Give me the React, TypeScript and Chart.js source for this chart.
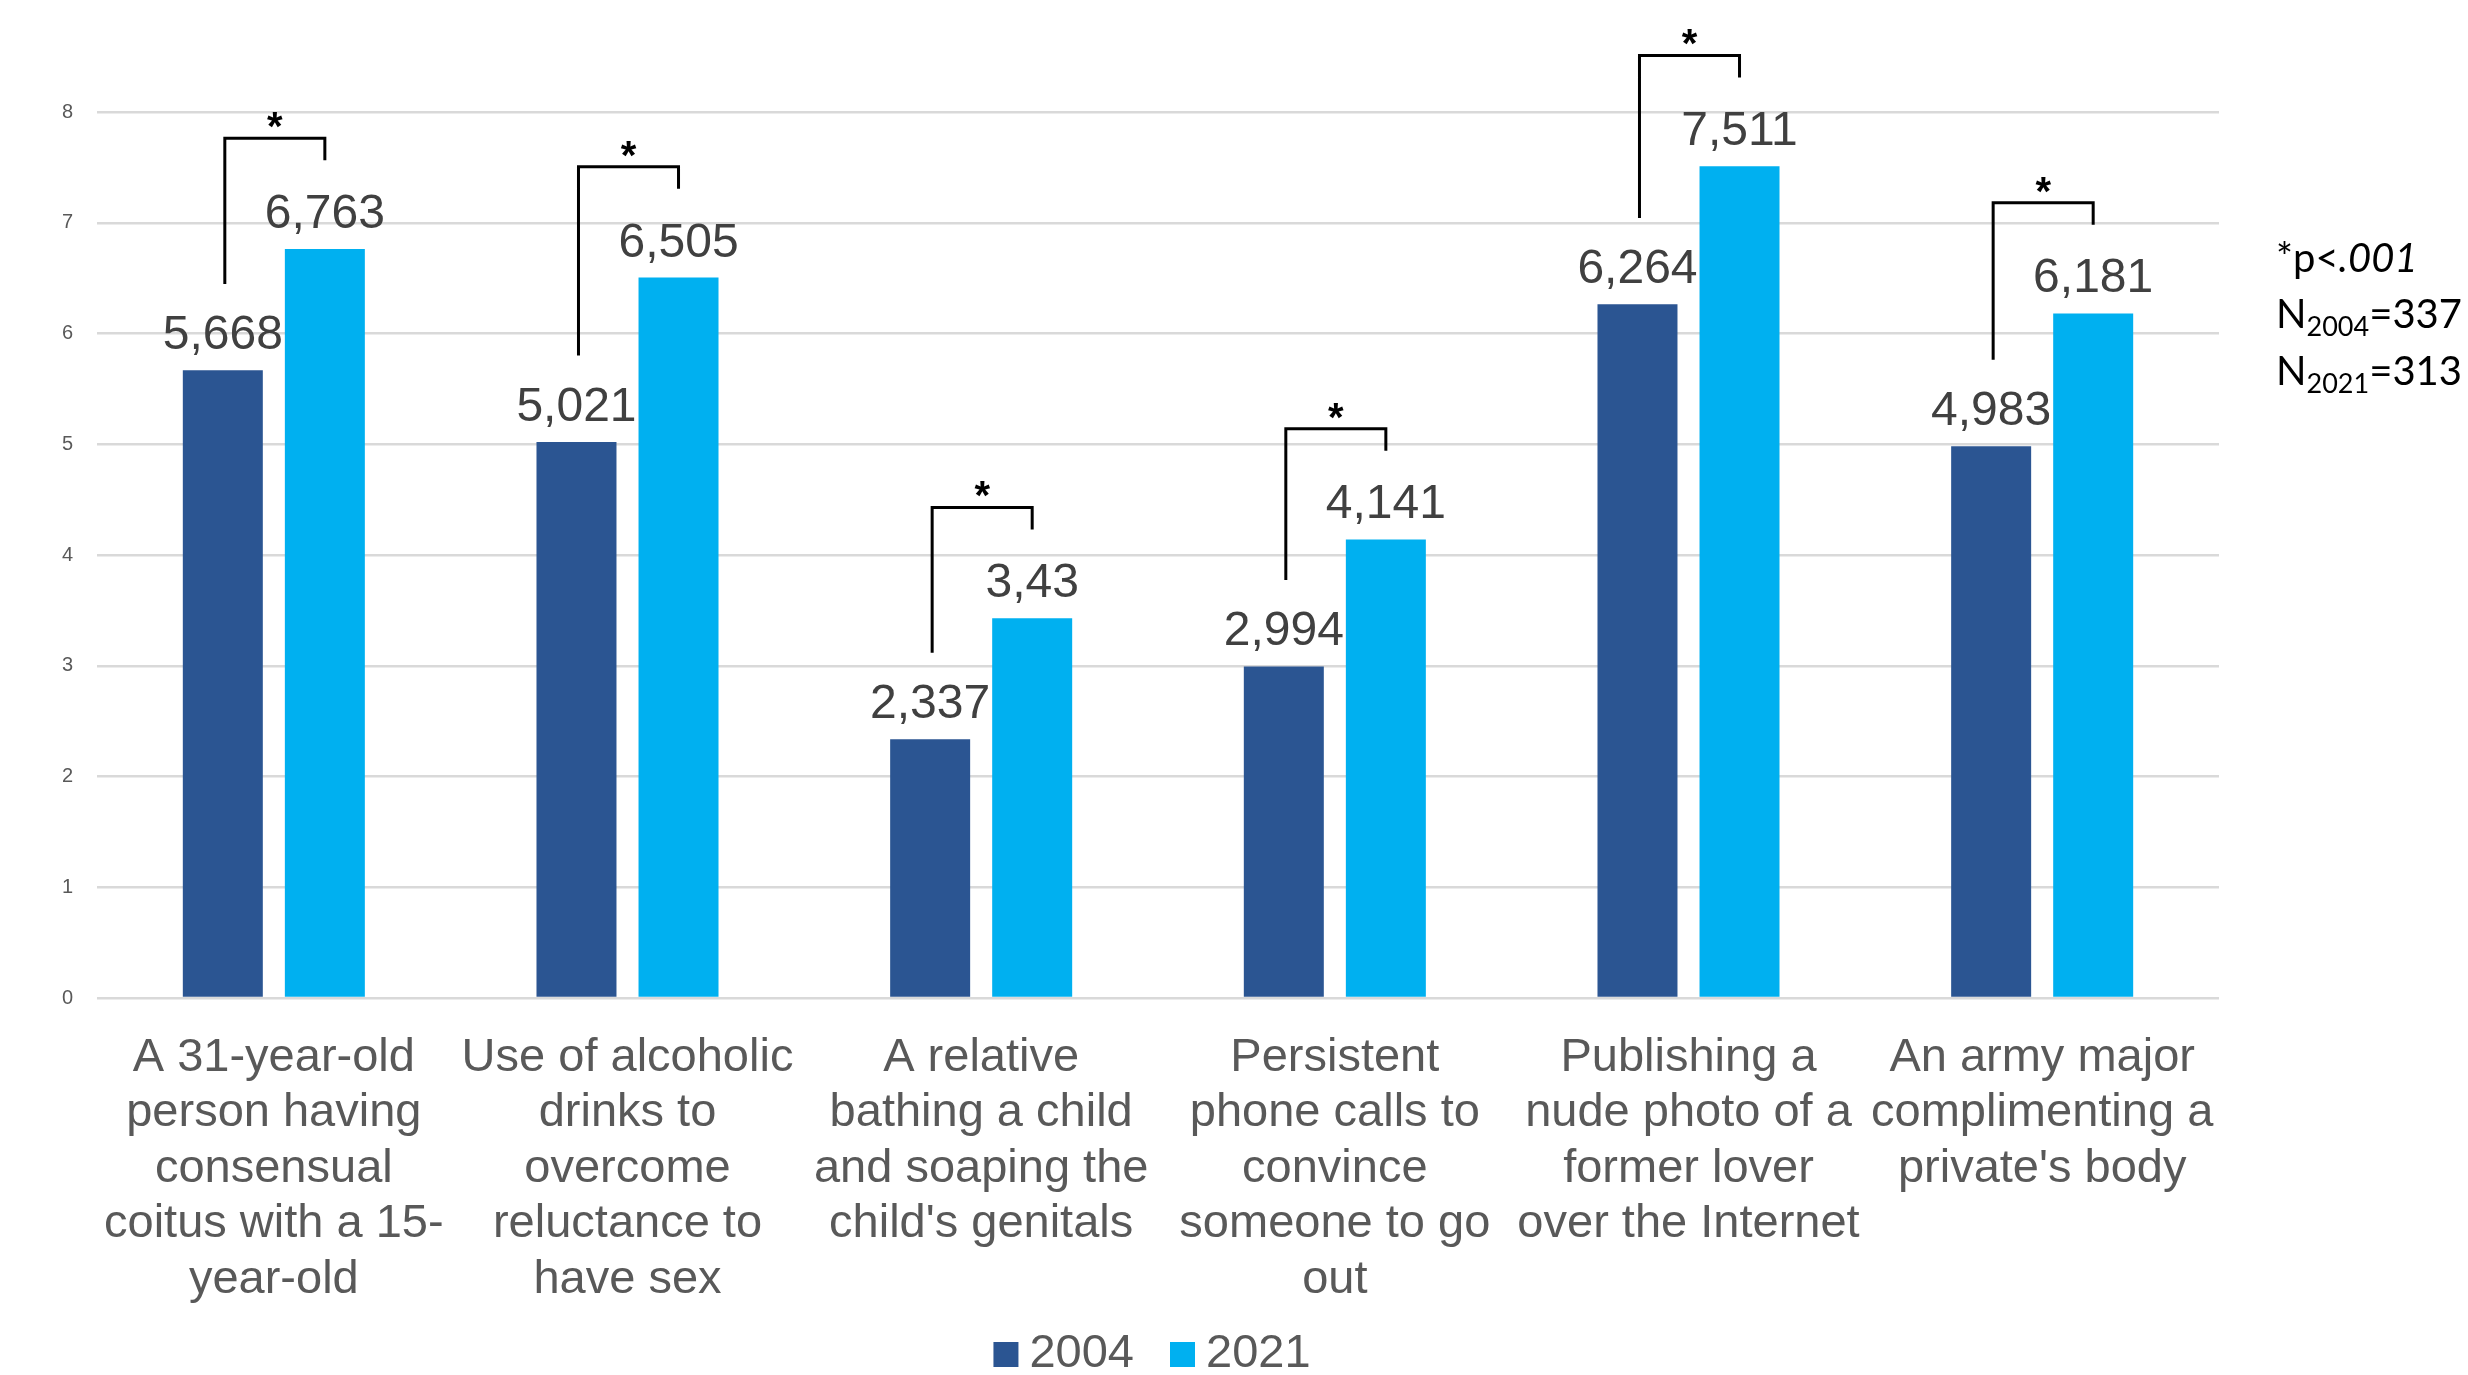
import React, { useEffect, useRef } from "react";
import { Chart, registerables } from "chart.js";

Chart.register(...registerables);

const categories: string[][] = [
  ["A 31-year-old", "person having", "consensual", "coitus with a 15-", "year-old"],
  ["Use of alcoholic", "drinks to", "overcome", "reluctance to", "have sex"],
  ["A relative", "bathing a child", "and soaping the", "child's genitals"],
  ["Persistent", "phone calls to", "convince", "someone to go", "out"],
  ["Publishing a", "nude photo of a", "former lover", "over the Internet"],
  ["An army major", "complimenting a", "private's body"],
];

const values2004: number[] = [5.668, 5.021, 2.337, 2.994, 6.264, 4.983];
const values2021: number[] = [6.763, 6.505, 3.43, 4.141, 7.511, 6.181];
const significant: boolean[] = [true, true, true, true, true, true];

const seriesLabels: string[] = ["2004", "2021"];
const seriesColors: string[] = ["#2B5592", "#00B0F0"];

const yTicks: number[] = [0, 1, 2, 3, 4, 5, 6, 7, 8];

const FONT = "'Liberation Sans', Arial, sans-serif";
const NOTE_FONT = "Lato, 'Open Sans', sans-serif";

const fmt = (v: number) => String(v).replace(".", ",");

const valueLabelPlugin = {
  id: "valueLabels",
  afterDatasetsDraw(chart: any) {
    const ctx = chart.ctx;
    ctx.save();
    ctx.font = `48px ${FONT}`;
    ctx.fillStyle = "#404040";
    ctx.textAlign = "center";
    ctx.textBaseline = "alphabetic";
    chart.data.datasets.forEach((ds: any, di: number) => {
      const meta = chart.getDatasetMeta(di);
      meta.data.forEach((bar: any, i: number) => {
        ctx.fillText(fmt(ds.data[i]), bar.x, bar.y - 21);
      });
    });
    ctx.restore();
  },
};

const bracketPlugin = {
  id: "brackets",
  afterDatasetsDraw(chart: any) {
    const ctx = chart.ctx;
    const y = chart.scales.y;
    const m0 = chart.getDatasetMeta(0);
    const m1 = chart.getDatasetMeta(1);
    ctx.save();
    ctx.strokeStyle = "#000000";
    ctx.lineWidth = 3;
    ctx.fillStyle = "#000000";
    ctx.font = `bold 40px ${FONT}`;
    ctx.textAlign = "center";
    ctx.textBaseline = "alphabetic";
    significant.forEach((sig, i) => {
      if (!sig) return;
      const x1 = m0.data[i].x + 2;
      const x2 = m1.data[i].x;
      const yTop = y.getPixelForValue(values2021[i] + 1.0);
      const yLeft = y.getPixelForValue(values2004[i] + 0.78);
      ctx.beginPath();
      ctx.moveTo(x1, yLeft);
      ctx.lineTo(x1, yTop);
      ctx.lineTo(x2, yTop);
      ctx.lineTo(x2, yTop + 22);
      ctx.stroke();
      ctx.fillText("*", (x1 + x2) / 2, yTop + 2);
    });
    ctx.restore();
  },
};

const notesPlugin = {
  id: "notes",
  afterDraw(chart: any) {
    const ctx = chart.ctx;
    const x0 = chart.chartArea.right + 57;
    ctx.save();
    ctx.fillStyle = "#000000";
    ctx.textAlign = "left";
    ctx.textBaseline = "alphabetic";
    let x = x0;
    ctx.font = `40px ${NOTE_FONT}`;
    ctx.fillText("*p<", x, 272);
    x += ctx.measureText("*p<").width;
    ctx.font = `italic 40px ${NOTE_FONT}`;
    ctx.fillText(".001", x, 272);
    const rows: [string, string, string, number][] = [
      ["N", "2004", "=337", 328],
      ["N", "2021", "=313", 385],
    ];
    rows.forEach(([a, sub, b, base]) => {
      let xx = x0;
      ctx.font = `40px ${NOTE_FONT}`;
      ctx.fillText(a, xx, base);
      xx += ctx.measureText(a).width;
      ctx.font = `27px ${NOTE_FONT}`;
      ctx.fillText(sub, xx, base + 8);
      xx += ctx.measureText(sub).width;
      ctx.font = `40px ${NOTE_FONT}`;
      ctx.fillText(b, xx, base);
    });
    ctx.restore();
  },
};

const legendPlugin = {
  id: "customLegend",
  afterDraw(chart: any) {
    const ctx = chart.ctx;
    const box = 25;
    const gapText = 11;
    const gapItem = 36;
    ctx.save();
    ctx.font = `47px ${FONT}`;
    const items = chart.data.datasets.map((ds: any) => ({
      text: ds.label,
      color: ds.backgroundColor,
      w: ctx.measureText(ds.label).width,
    }));
    const total =
      items.reduce((s: number, it: any) => s + box + gapText + it.w, 0) +
      gapItem * (items.length - 1);
    const cx = (chart.chartArea.left + chart.chartArea.right) / 2 - 6;
    let x = cx - total / 2;
    const base = chart.height - 8;
    ctx.textAlign = "left";
    ctx.textBaseline = "alphabetic";
    items.forEach((it: any) => {
      ctx.fillStyle = it.color;
      ctx.fillRect(x, base - box, box, box);
      x += box + gapText;
      ctx.fillStyle = "#595959";
      ctx.fillText(it.text, x, base);
      x += it.w + gapItem;
    });
    ctx.restore();
  },
};

export default function App() {
  const ref = useRef<HTMLCanvasElement | null>(null);

  useEffect(() => {
    if (!ref.current) return;
    const chart = new Chart(ref.current, {
      type: "bar",
      data: {
        labels: categories as any,
        datasets: [
          {
            label: seriesLabels[0],
            data: values2004,
            backgroundColor: seriesColors[0],
            categoryPercentage: 0.577,
            barPercentage: 0.784,
          },
          {
            label: seriesLabels[1],
            data: values2021,
            backgroundColor: seriesColors[1],
            categoryPercentage: 0.577,
            barPercentage: 0.784,
          },
        ],
      },
      options: {
        responsive: false,
        maintainAspectRatio: false,
        devicePixelRatio: 1,
        animation: false,
        layout: { padding: { top: 112, right: 249, bottom: 0, left: 0 } },
        plugins: {
          legend: { display: false },
          tooltip: { enabled: false },
        },
        scales: {
          x: {
            grid: { display: false },
            border: { display: false },
            ticks: {
              autoSkip: false,
              maxRotation: 0,
              minRotation: 0,
              padding: 24,
              color: "#595959",
              font: { family: FONT, size: 47, lineHeight: 1.18 },
            },
            afterFit(scale: any) {
              scale.height = 377;
            },
          },
          y: {
            min: 0,
            max: 8,
            afterBuildTicks(scale: any) {
              scale.ticks = yTicks.map((v) => ({ value: v }));
            },
            grid: { color: "#d9d9d9", lineWidth: 2.5, drawTicks: false },
            border: { display: false },
            ticks: {
              padding: 24,
              color: "#595959",
              font: { family: FONT, size: 20 },
            },
            afterFit(scale: any) {
              scale.width = 97;
            },
          },
        },
      },
      plugins: [valueLabelPlugin, bracketPlugin, notesPlugin, legendPlugin],
    });
    return () => chart.destroy();
  }, []);

  return (
    <div style={{ position: "absolute", left: 0, top: 0, width: 2468, height: 1375, background: "#fff" }}>
      <canvas ref={ref} width={2468} height={1375} style={{ width: 2468, height: 1375, display: "block" }} />
    </div>
  );
}
